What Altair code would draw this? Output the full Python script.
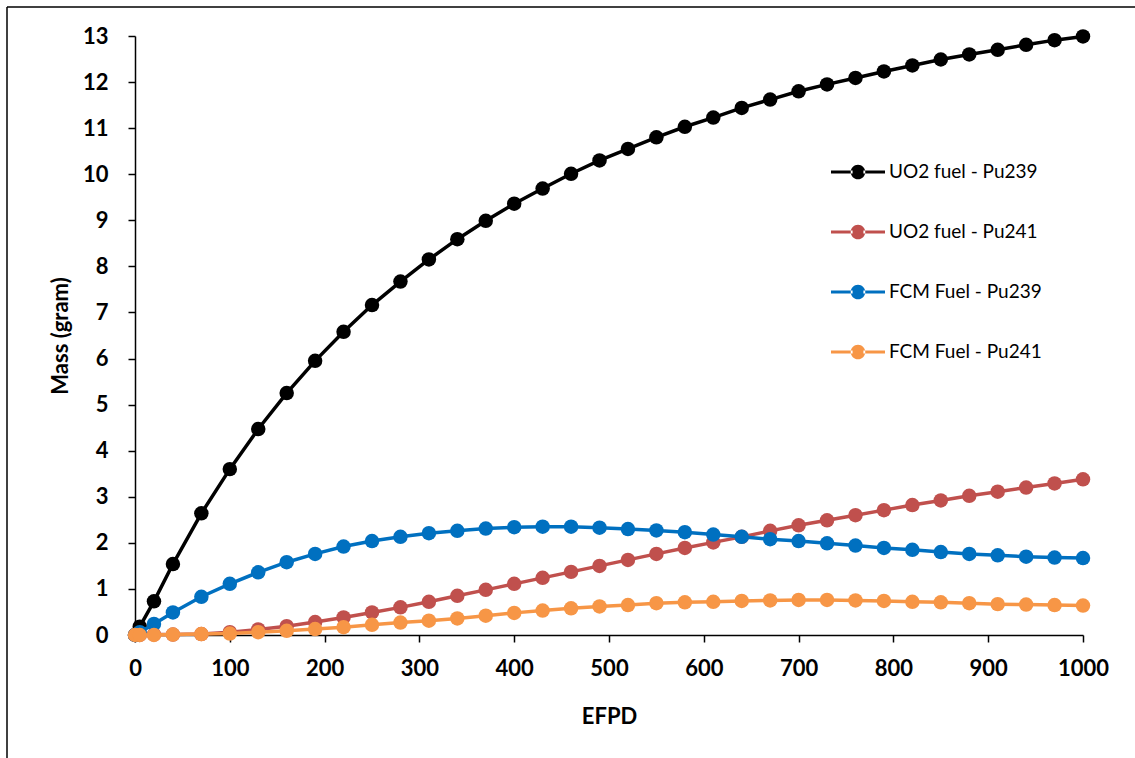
import altair as alt
import pandas as pd

# ---- data ----
efpd = [0, 5, 20, 40, 70, 100, 130, 160, 190, 220, 250, 280, 310, 340, 370, 400,
        430, 460, 490, 520, 550, 580, 610, 640, 670, 700, 730, 760, 790, 820, 850,
        880, 910, 940, 970, 1000]

uo2_pu239 = [0, 0.18, 0.73, 1.54, 2.64, 3.60, 4.47, 5.25, 5.95, 6.58, 7.16, 7.67,
             8.15, 8.59, 8.99, 9.36, 9.69, 10.01, 10.30, 10.55, 10.80, 11.03, 11.23,
             11.44, 11.62, 11.80, 11.95, 12.09, 12.23, 12.36, 12.49, 12.60, 12.70,
             12.81, 12.91, 12.99]

uo2_pu241 = [0, 0, 0.01, 0.01, 0.02, 0.06, 0.12, 0.19, 0.28, 0.38, 0.49, 0.60,
             0.72, 0.85, 0.98, 1.11, 1.24, 1.37, 1.50, 1.63, 1.76, 1.89, 2.01, 2.13,
             2.26, 2.38, 2.49, 2.60, 2.71, 2.82, 2.92, 3.02, 3.11, 3.20, 3.29, 3.38]

fcm_pu239 = [0, 0.06, 0.24, 0.49, 0.83, 1.11, 1.36, 1.58, 1.76, 1.92, 2.04, 2.13,
             2.21, 2.26, 2.31, 2.34, 2.35, 2.35, 2.33, 2.30, 2.27, 2.23, 2.18, 2.13,
             2.08, 2.04, 1.99, 1.94, 1.89, 1.85, 1.80, 1.76, 1.73, 1.70, 1.68, 1.67]

fcm_pu241 = [0, 0, 0, 0.01, 0.02, 0.03, 0.06, 0.09, 0.13, 0.17, 0.22, 0.27, 0.31,
             0.36, 0.42, 0.48, 0.53, 0.58, 0.62, 0.65, 0.69, 0.71, 0.72, 0.74, 0.75,
             0.76, 0.76, 0.75, 0.74, 0.72, 0.71, 0.69, 0.67, 0.66, 0.65, 0.64]

series_names = ["UO2 fuel - Pu239", "UO2 fuel - Pu241",
                "FCM Fuel - Pu239", "FCM Fuel - Pu241"]
series_values = [uo2_pu239, uo2_pu241, fcm_pu239, fcm_pu241]
series_colors = ["#000000", "#C0504D", "#0070C0", "#F79646"]

x_ticks = list(range(0, 1001, 100))
y_ticks = list(range(0, 14))

rows = []
for name, vals in zip(series_names, series_values):
    for x, v in zip(efpd, vals):
        rows.append({"EFPD": x, "Mass": v, "Series": name})
df = pd.DataFrame(rows)

# ---- layout ----
W, H = 948, 599
PAD = {"left": 135, "top": 36, "right": 52, "bottom": 123}
FONT = "Lato"

color_scale = alt.Scale(domain=series_names, range=series_colors)

x_enc = alt.X("EFPD:Q",
              scale=alt.Scale(domain=[0, 1000], nice=False),
              axis=alt.Axis(values=x_ticks, format="d", title="EFPD", labelPadding=16,
                            titlePadding=27, labelFlush=False, labelOverlap=False))
y_enc = alt.Y("Mass:Q",
              scale=alt.Scale(domain=[0, 13], nice=False),
              axis=alt.Axis(values=y_ticks, format="d", title="Mass (gram)",
                            labelPadding=20, titlePadding=10,
                            labelFlush=False, labelOverlap=False))

legend_symbol = ("M-1,-0.056 L-0.2,-0.056 L-0.2,0.056 L-1,0.056 Z "
                 "M0.2,-0.056 L1,-0.056 L1,0.056 L0.2,0.056 Z "
                 "M-0.27,0 A0.27,0.27 0 1,0 0.27,0 A0.27,0.27 0 1,0 -0.27,0 Z")

legend = alt.Legend(title=None, orient="none", legendX=696, legendY=109,
                    symbolType=legend_symbol, symbolSize=2916,
                    symbolStrokeWidth=0, symbolOpacity=1,
                    labelFont=FONT, labelFontSize=19, labelColor="black",
                    labelOffset=4, rowPadding=23, padding=0, labelLimit=300)

one = pd.DataFrame({"k": [0]})
frame_left = alt.Chart(one).mark_rule(color="black", strokeWidth=1.5).encode(
    x=alt.value(-128), y=alt.value(-29), y2=alt.value(H + PAD["bottom"]))
frame_top = alt.Chart(one).mark_rule(color="black", strokeWidth=1.5).encode(
    x=alt.value(-128), x2=alt.value(W + PAD["right"]), y=alt.value(-29))

layers = []
for i, name in enumerate(series_names):
    base = alt.Chart(df).transform_filter(alt.datum.Series == name)
    line = base.mark_line(strokeWidth=3.5).encode(
        x=x_enc, y=y_enc,
        color=alt.Color("Series:N", scale=color_scale, legend=legend))
    pts = base.mark_point(filled=True, size=210, opacity=1).encode(
        x=x_enc, y=y_enc,
        color=alt.Color("Series:N", scale=color_scale, legend=legend))
    # the first layer is a point layer so the shared legend takes the filled symbol style
    layers += [pts, line] if i == 0 else [line, pts]
layers += [frame_left, frame_top]

chart = alt.layer(*layers).properties(
    width=W, height=H,
    autosize=alt.AutoSizeParams(type="none"),
    padding=PAD,
    background="white",
).configure_view(
    strokeOpacity=0
).configure_axis(
    labelFont=FONT, labelFontSize=22, labelFontWeight="bold", labelColor="black",
    titleFont=FONT, titleFontSize=22, titleFontWeight="bold", titleColor="black",
    domainColor="black", domainWidth=1.5, tickColor="black", tickWidth=1.5,
    tickSize=7, grid=False
)

chart.save("out.html", embed_options={"renderer": "svg", "actions": False})
